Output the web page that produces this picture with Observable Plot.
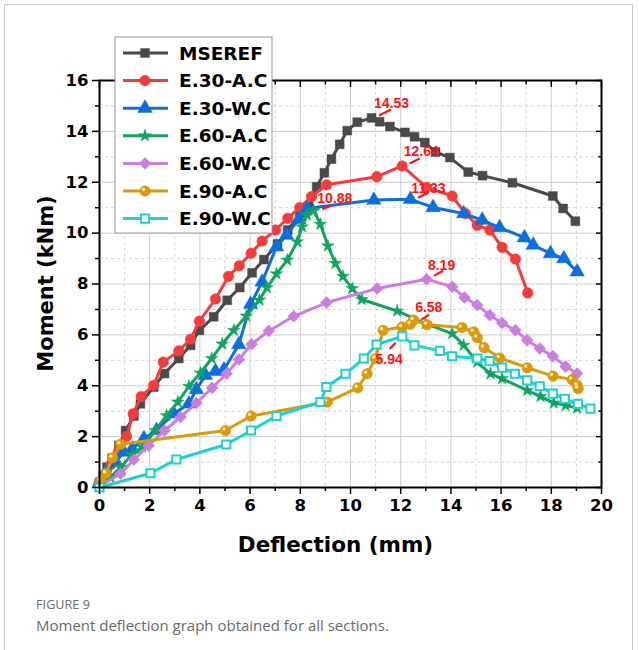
<!DOCTYPE html>
<html>
<head>
<meta charset="utf-8">
<script src="https://cdn.jsdelivr.net/npm/d3@7"></script>
<script src="https://cdn.jsdelivr.net/npm/@observablehq/plot@0.6"></script>
<style>
  html, body { margin: 0; padding: 0; background: #fff; }
  #card { position: absolute; left: 4px; top: 4px; width: 629px; height: 700px; border: 1px solid #c9c9c9; box-sizing: border-box; }
  #chart { position: absolute; left: 0; top: 0; }
  #cap1 { position: absolute; left: 36px; top: 596px; font-family: "Open Sans", "Noto Sans", sans-serif; font-size: 12.5px; color: #6a6a6a; letter-spacing: 0.1px; }
  #cap2 { position: absolute; left: 36px; top: 615px; font-family: "Open Sans", "Noto Sans", sans-serif; font-size: 15px; color: #6a6a6a; }
</style>
</head>
<body>
<div id="card"></div>
<div id="chart"></div>
<div id="cap1">FIGURE 9</div>
<div id="cap2">Moment deflection graph obtained for all sections.</div>
<script>
// ---------- data ----------
const seriesNames = ["MSEREF", "E.30-A.C", "E.30-W.C", "E.60-A.C", "E.60-W.C", "E.90-A.C", "E.90-W.C"];
const seriesColors = ["#4a4a4a", "#f53c3c", "#0c6fdc", "#12a45e", "#c97ee0", "#d99a0b", "#1ed0d0"];

const mserefX = [0, 0.15, 0.3, 0.5, 0.77, 1.04, 1.37, 1.63, 2.16, 2.59, 3.16, 3.63, 3.98, 4.55, 5.09, 5.59, 6.08, 6.55, 7.09, 7.5, 7.98, 8.34, 8.65, 8.96, 9.24, 9.57, 9.87, 10.27, 10.84, 11.16, 11.57, 12.17, 12.55, 12.96, 13.39, 13.96, 14.69, 15.26, 16.45, 18.06, 18.47, 18.96];
const mserefY = [0.2, 0.45, 0.8, 1.15, 1.65, 2.24, 2.81, 3.29, 3.95, 4.48, 5.07, 5.59, 6.18, 6.71, 7.36, 7.86, 8.44, 8.96, 9.57, 10.12, 10.78, 11.03, 11.82, 12.37, 12.91, 13.49, 14.03, 14.36, 14.53, 14.38, 14.19, 13.96, 13.79, 13.56, 13.19, 12.97, 12.40, 12.26, 11.98, 11.46, 10.97, 10.47];

const e30acX = [0, 0.2, 0.45, 0.75, 1.08, 1.34, 1.66, 2.16, 2.54, 3.16, 3.63, 3.98, 4.62, 5.14, 5.57, 6.04, 6.48, 7.01, 7.5, 7.98, 8.45, 9.05, 11.05, 12.06, 13.03, 14.05, 14.58, 15.05, 15.55, 16.04, 16.57, 17.06];
const e30acY = [0.2, 0.5, 0.9, 1.4, 2.01, 2.9, 3.58, 4.02, 4.93, 5.37, 5.83, 6.54, 7.41, 8.3, 8.72, 9.21, 9.69, 10.12, 10.58, 11.01, 11.44, 11.9, 12.22, 12.64, 11.8, 11.46, 10.77, 10.31, 10.12, 9.44, 8.98, 7.65];

const e30wcX = [0, 0.24, 0.64, 0.97, 1.3, 1.77, 2.27, 2.96, 3.56, 3.86, 4.22, 4.62, 4.96, 5.55, 6.02, 6.48, 7.05, 7.45, 7.94, 8.27, 10.93, 12.39, 13.29, 14.51, 15.25, 15.94, 16.93, 17.28, 17.97, 18.5, 19.03];
const e30wcY = [0.2, 0.6, 1.0, 1.39, 1.52, 1.92, 2.24, 2.9, 3.29, 3.85, 4.41, 4.57, 4.63, 5.62, 7.2, 8.08, 9.46, 9.92, 10.54, 10.97, 11.3, 11.33, 11.01, 10.77, 10.51, 10.22, 9.82, 9.53, 9.2, 9.0, 8.48];

const e60acX = [0, 0.44, 0.84, 1.3, 1.7, 2.23, 2.67, 3.12, 3.56, 4.02, 4.47, 4.89, 5.35, 5.85, 6.37, 6.67, 7.05, 7.48, 7.88, 8.07, 8.27, 8.54, 8.8, 9.1, 9.4, 9.7, 10.07, 10.45, 11.86, 12.99, 14.05, 14.51, 15.05, 15.58, 16.04, 17.04, 17.57, 18.1, 18.57, 19.03];
const e60acY = [0.1, 0.4, 0.8, 1.3, 1.59, 2.24, 2.83, 3.36, 3.98, 4.5, 5.07, 5.64, 6.18, 6.74, 7.37, 7.85, 8.4, 8.94, 9.66, 10.25, 10.71, 10.88, 10.35, 9.5, 8.81, 8.3, 7.82, 7.39, 6.94, 6.44, 6.05, 5.59, 4.93, 4.47, 4.28, 3.82, 3.58, 3.32, 3.23, 3.12];

const e60wcX = [0, 0.84, 1.37, 1.96, 2.59, 3.23, 3.86, 4.49, 5.06, 5.55, 6.06, 6.74, 7.74, 9.05, 11.06, 13.03, 14.05, 14.54, 15.05, 15.55, 16.04, 16.57, 17.04, 17.54, 18.06, 18.57, 19.03];
const e60wcY = [0.05, 0.54, 1.09, 1.65, 2.24, 2.77, 3.32, 3.92, 4.47, 5.03, 5.63, 6.15, 6.73, 7.27, 7.82, 8.19, 7.89, 7.47, 7.17, 6.77, 6.47, 6.18, 5.79, 5.46, 5.16, 4.76, 4.48];

const e90acX = [0.05, 0.26, 0.52, 0.84, 5.02, 6.04, 9.07, 10.29, 10.66, 10.99, 11.3, 12.06, 12.39, 12.52, 13.05, 14.44, 14.91, 15.05, 15.32, 15.95, 17.04, 18.07, 18.83, 19.03, 19.07];
const e90acY = [0.25, 0.56, 1.17, 1.7, 2.24, 2.81, 3.36, 3.92, 4.47, 5.07, 6.18, 6.31, 6.42, 6.58, 6.4, 6.29, 6.12, 5.89, 5.5, 5.09, 4.71, 4.38, 4.24, 4.02, 3.89];

const e90wcX = [0, 2.03, 3.06, 5.05, 6.04, 7.05, 8.8, 9.04, 9.8, 10.53, 11.04, 12.06, 12.55, 13.56, 14.05, 15.05, 15.54, 16.04, 16.55, 17.04, 17.54, 18.06, 18.54, 19.06, 19.56];
const e90wcY = [0.0, 0.56, 1.1, 1.69, 2.24, 2.81, 3.36, 3.95, 4.47, 5.07, 5.62, 5.94, 5.59, 5.37, 5.16, 5.07, 4.97, 4.71, 4.47, 4.21, 3.98, 3.69, 3.49, 3.29, 3.1];

const xMajorTicks = [0, 2, 4, 6, 8, 10, 12, 14, 16, 18, 20];
const xMinorTicks = [1, 3, 5, 7, 9, 11, 13, 15, 17, 19];
const yMajorTicks = [0, 2, 4, 6, 8, 10, 12, 14, 16];
const yMinorTicks = [1, 3, 5, 7, 9, 11, 13, 15];

const xTitle = "Deflection (mm)";
const yTitle = "Moment (kNm)";

// peak annotations (series index + label text)
const peakSeries = [0, 1, 2, 3, 4, 5, 6];
const peakLabels = ["14.53", "12.64", "11.33", "10.88", "8.19", "6.58", "5.94"];

// ---------- styling (kept separate from the data) ----------
const seriesX = [mserefX, e30acX, e30wcX, e60acX, e60wcX, e90acX, e90wcX];
const seriesY = [mserefY, e30acY, e30wcY, e60acY, e60wcY, e90acY, e90wcY];
const seriesSymbol = ["square", "circle", "triangle", "star", "diamond2", "circle", "square"];
const seriesR = [5.0, 5.3, 5.4, 4.0, 5.4, 5.3, 4.6];
const seriesHollow = [false, false, false, false, false, false, true];
// label offsets in pixels: [text dx, text dy, dash x1, dash y1, dash x2, dash y2]
const labelOffsets = [
  [20, -14, 8, -2, 20, -8],
  [19, -14, 8, -2, 18, -7],
  [18, -11, 8, -1, 18, -6],
  [21, -12, 9, -1, 19, -5],
  [15, -14, 8, -3, 17, -8],
  [15, -13, 8, 0, 16, -5],
  [-13, 23, -12, 13, -6, 7]
];

const rows = seriesNames.flatMap((name, i) =>
  seriesX[i].map((x, j) => ({series: name, x, y: seriesY[i][j]}))
);

const FONT = "'DejaVu Sans', 'Liberation Sans', Arial, sans-serif";

const marks = [
  Plot.gridX(xMinorTicks, {stroke: "#d6d6d6", strokeOpacity: 1, strokeDasharray: "3,3"}),
  Plot.gridY(yMinorTicks, {stroke: "#d6d6d6", strokeOpacity: 1, strokeDasharray: "3,3"}),
  Plot.gridX(xMajorTicks, {stroke: "#cdcdcd", strokeOpacity: 1}),
  Plot.gridY(yMajorTicks, {stroke: "#cdcdcd", strokeOpacity: 1})
];

seriesNames.forEach((name, i) => {
  const d = rows.filter(r => r.series === name);
  marks.push(Plot.line(d, {x: "x", y: "y", stroke: seriesColors[i], strokeWidth: 3}));
  marks.push(Plot.dot(d, {
    x: "x", y: "y", symbol: seriesSymbol[i], r: seriesR[i],
    fill: seriesHollow[i] ? "white" : seriesColors[i],
    stroke: seriesColors[i], strokeWidth: seriesHollow[i] ? 2 : 0.5
  }));
  if (name === "E.90-A.C") {
    marks.push(Plot.dot(d, {x: "x", y: "y", r: 1.7, fill: "#fbe9b5", dx: -1.6, dy: -1.6}));
  }
});

// peak annotation texts
peakSeries.forEach((si, k) => {
  const ys = seriesY[si];
  const idx = d3.maxIndex(ys);
  const p = [{x: seriesX[si][idx], y: ys[idx], label: peakLabels[k]}];
  marks.push(Plot.text(p, {
    x: "x", y: "y", text: "label", dx: labelOffsets[k][0], dy: labelOffsets[k][1],
    fill: "#ff1414", fontSize: 14, fontWeight: "bold", fontFamily: "'Liberation Sans', Arial, sans-serif"
  }));
});

marks.push(
  Plot.frame({stroke: "black", strokeWidth: 2}),
  Plot.axisX({ticks: xMajorTicks, tickSize: 7, tickPadding: 5, tickFormat: d3.format("d"), label: null,
    fontSize: 16.5, fontWeight: "bold", fontFamily: FONT, strokeWidth: 1.5}),
  Plot.axisX({ticks: xMinorTicks, tickSize: 4, tickFormat: () => "", label: null, strokeWidth: 1.5}),
  Plot.axisX({anchor: "top", ticks: xMajorTicks, tickSize: -6, tickFormat: () => "", label: null, strokeWidth: 1.5}),
  Plot.axisX({anchor: "top", ticks: xMinorTicks, tickSize: -3.5, tickFormat: () => "", label: null, strokeWidth: 1.5}),
  Plot.axisY({ticks: yMajorTicks, tickSize: 7, tickPadding: 4, tickFormat: d3.format("d"), label: null,
    fontSize: 16.5, fontWeight: "bold", fontFamily: FONT, strokeWidth: 1.5}),
  Plot.axisY({ticks: yMinorTicks, tickSize: 4, tickFormat: () => "", label: null, strokeWidth: 1.5}),
  Plot.axisY({anchor: "right", ticks: yMajorTicks, tickSize: -6, tickFormat: () => "", label: null, strokeWidth: 1.5}),
  Plot.axisY({anchor: "right", ticks: yMinorTicks, tickSize: -3.5, tickFormat: () => "", label: null, strokeWidth: 1.5}),
  Plot.text([xTitle], {frameAnchor: "bottom", dx: -15, dy: 58, lineAnchor: "middle", textAnchor: "middle",
    fontSize: 21.5, fontWeight: "bold", fontFamily: FONT, fill: "black"})
);

const plot = Plot.plot({
  width: 639,
  height: 570,
  marginLeft: 99,
  marginRight: 38,
  marginTop: 80,
  marginBottom: 83,
  x: {domain: [0, 20]},
  y: {domain: [0, 16]},
  style: {fontFamily: FONT, background: "transparent", overflow: "visible"},
  marks
});

document.getElementById("chart").appendChild(plot);

const sx = plot.scale("x"), sy = plot.scale("y");
const svg = d3.select(plot);

// y-axis title, centred on the y scale's range
const yMid = (sy.range[0] + sy.range[1]) / 2;
svg.append("text")
  .attr("transform", `translate(45,${yMid}) rotate(-90)`)
  .attr("text-anchor", "middle").attr("dy", "0.36em")
  .attr("font-family", FONT).attr("font-weight", "bold").attr("font-size", 21)
  .attr("fill", "black").text(yTitle);

// leader dashes for peak labels, placed through the plot's own scales
peakSeries.forEach((si, k) => {
  const ys = seriesY[si];
  const idx = d3.maxIndex(ys);
  const px = sx.apply(seriesX[si][idx]), py = sy.apply(ys[idx]);
  const o = labelOffsets[k];
  svg.append("line")
    .attr("x1", px + o[2]).attr("y1", py + o[3])
    .attr("x2", px + o[4]).attr("y2", py + o[5])
    .attr("stroke", "#ff1414").attr("stroke-width", 2.2);
});

// legend
const lg = svg.append("g").attr("text-anchor", "start");
const lx = 115, ly = 37, lw = 157, lh = 196, step = 27.6;
lg.append("rect").attr("x", lx).attr("y", ly).attr("width", lw).attr("height", lh)
  .attr("fill", "white").attr("stroke", "#9a9a9a").attr("stroke-width", 1);
const symMap = {square: d3.symbolSquare, circle: d3.symbolCircle, triangle: d3.symbolTriangle, star: d3.symbolStar, diamond2: d3.symbolDiamond2};
seriesNames.forEach((name, i) => {
  const cy = ly + 16 + i * step;
  lg.append("line").attr("x1", lx + 8).attr("x2", lx + 53).attr("y1", cy).attr("y2", cy)
    .attr("stroke", seriesColors[i]).attr("stroke-width", 3);
  const r = seriesR[i];
  lg.append("path")
    .attr("d", d3.symbol(symMap[seriesSymbol[i]], Math.PI * r * r)())
    .attr("transform", `translate(${lx + 30},${cy})`)
    .attr("fill", seriesHollow[i] ? "white" : seriesColors[i])
    .attr("stroke", seriesColors[i]).attr("stroke-width", seriesHollow[i] ? 2 : 0.5);
  if (name === "E.90-A.C") {
    lg.append("circle").attr("cx", lx + 28.4).attr("cy", cy - 1.6).attr("r", 1.7).attr("fill", "#fbe9b5");
  }
  lg.append("text").attr("x", lx + 64).attr("y", cy).attr("dy", "0.36em")
    .attr("text-anchor", "start")
    .attr("font-family", FONT).attr("font-weight", "bold").attr("font-size", 18.5)
    .attr("fill", "black").text(name);
});
</script>
</body>
</html>
